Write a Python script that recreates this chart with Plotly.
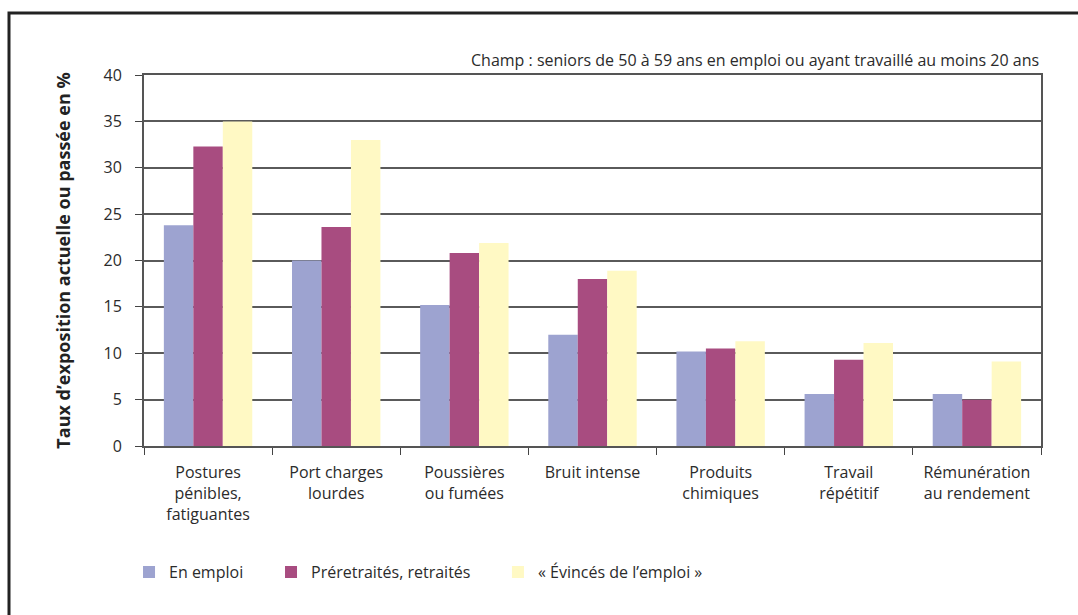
import plotly.graph_objects as go

categories = [
    "Postures<br>pénibles,<br>fatiguantes",
    "Port charges<br>lourdes",
    "Poussières<br>ou fumées",
    "Bruit intense",
    "Produits<br>chimiques",
    "Travail<br>répétitif",
    "Rémunération<br>au rendement",
]
en_emploi = [23.8, 20.0, 15.2, 12.0, 10.2, 5.6, 5.6]
preretraites = [32.3, 23.6, 20.8, 18.0, 10.5, 9.3, 5.0]
evinces = [35.0, 33.0, 21.9, 18.9, 11.3, 11.1, 9.1]

series_names = ["En emploi", "Préretraités, retraités", "« Évincés de l’emploi »"]
series_values = [en_emploi, preretraites, evinces]
colors = ["#9DA3D0", "#A84C80", "#FFF9C4"]

y_ticks = [0, 5, 10, 15, 20, 25, 30, 35, 40]

FONT = "Open Sans"
TEXT = "#2b2b2b"

# one legend box per series so each entry sits at its own horizontal spot
legend_ids = ["legend", "legend2", "legend3"]
legend_x = [-0.0167, 0.1416, 0.3946]

fig = go.Figure()
for name, vals, col, lid in zip(series_names, series_values, colors, legend_ids):
    fig.add_trace(go.Bar(
        x=categories, y=vals, name=name, legend=lid,
        marker=dict(color=col, line=dict(width=0)),
    ))

legend_style = dict(
    orientation="h", y=-0.34, xanchor="left", yanchor="middle",
    font=dict(family=FONT, size=16, color=TEXT),
    itemwidth=30, bgcolor="rgba(0,0,0,0)",
)

fig.update_layout(
    width=1078, height=615,
    margin=dict(l=144, r=37, t=75, b=169),
    paper_bgcolor="white", plot_bgcolor="white",
    barmode="group", bargap=0.31, bargroupgap=0,
    font=dict(family=FONT, size=15, color=TEXT),
    showlegend=True,
    legend=dict(x=legend_x[0], **legend_style),
    legend2=dict(x=legend_x[1], **legend_style),
    legend3=dict(x=legend_x[2], **legend_style),
    xaxis=dict(
        showline=True, linecolor="#555", linewidth=2, mirror=True,
        ticks="outside", tickson="boundaries", ticklen=7, tickcolor="#444",
        tickfont=dict(family=FONT, size=16, color=TEXT),
        ticklabelstandoff=11,
        showgrid=False,
    ),
    yaxis=dict(
        range=[0, 40], tickvals=y_ticks,
        showline=True, linecolor="#555", linewidth=2, mirror=True,
        ticks="outside", ticklen=7, tickcolor="#444",
        tickfont=dict(family=FONT, size=16, color=TEXT),
        ticklabelstandoff=10,
        showgrid=True, gridcolor="#5a5a5a", gridwidth=1.5,
        zeroline=False,
        title=dict(
            text="<b>Taux d’exposition actuelle ou passée en %</b>",
            font=dict(family=FONT, size=18, color="#222"),
            standoff=28,
        ),
    ),
)

fig.add_annotation(
    text="Champ : seniors de 50 à 59 ans en emploi ou ayant travaillé au moins 20 ans",
    xref="paper", yref="paper", x=1.0, y=1.04, xanchor="right", yanchor="middle",
    showarrow=False, font=dict(family=FONT, size=16, color=TEXT),
)

# outer frame around the figure
fig.add_shape(
    type="rect", xref="paper", yref="paper",
    x0=(9 - 144) / 897, x1=1.2, y0=-0.6, y1=1 + (75 - 13) / 371,
    line=dict(color="#222", width=3), fillcolor="rgba(0,0,0,0)", layer="below",
)

fig.write_html("out.html")
